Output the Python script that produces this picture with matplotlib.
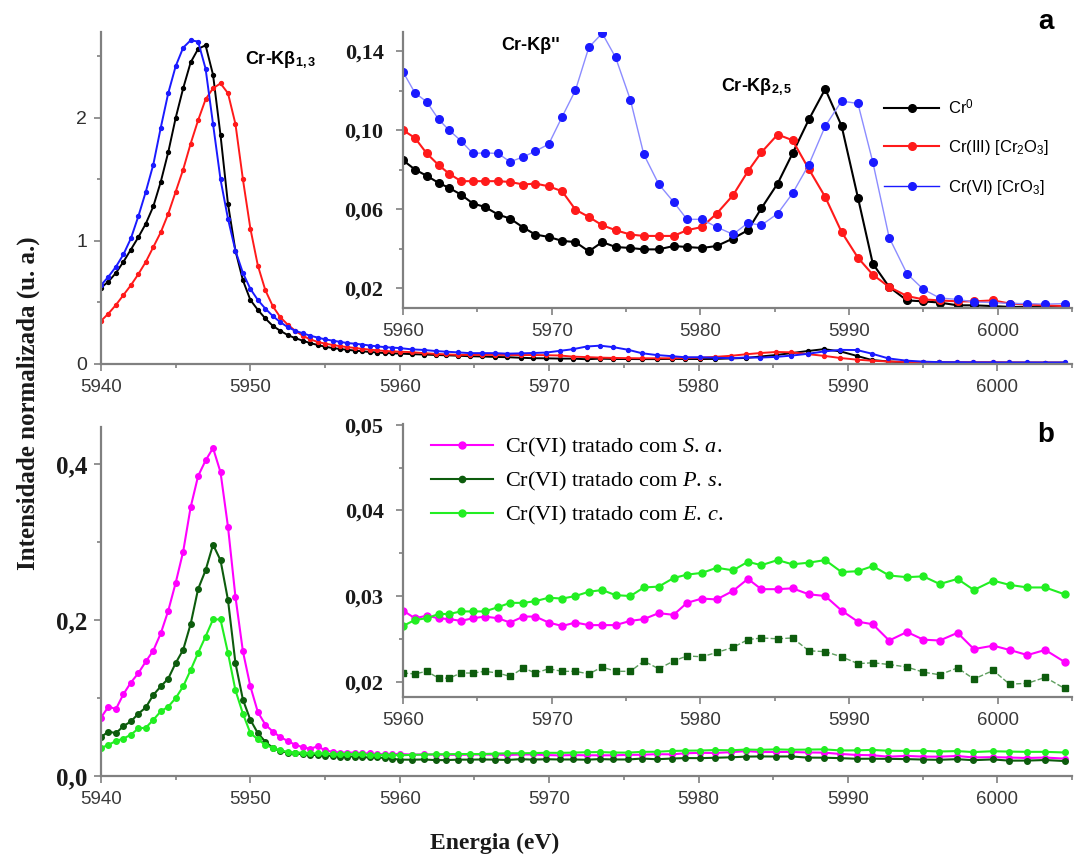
import numpy as np
import matplotlib.pyplot as plt
from matplotlib.ticker import MultipleLocator, FixedLocator

plt.rcParams['font.family'] = ['Liberation Sans', 'DejaVu Sans']
plt.rcParams['mathtext.fontset'] = 'custom'
plt.rcParams['mathtext.rm'] = 'Liberation Serif'
plt.rcParams['mathtext.it'] = 'Liberation Serif:italic'
plt.rcParams['mathtext.bf'] = 'Liberation Sans:bold'
plt.rcParams['mathtext.sf'] = 'Liberation Sans'

# ---- data: main peak region, 0.5 eV steps (5940 - 5959.5)
e_peak = np.arange(5940, 5960, 0.5)

cr0_peak = [0.62, 0.67, 0.74, 0.83, 0.93, 1.03, 1.14, 1.28, 1.48, 1.72,
            2.00, 2.24, 2.45, 2.56, 2.59, 2.35, 1.86, 1.30, 0.92, 0.68,
            0.52, 0.44, 0.37, 0.31, 0.27, 0.235, 0.21, 0.19, 0.17, 0.155,
            0.14, 0.13, 0.122, 0.115, 0.109, 0.103, 0.098, 0.093, 0.089, 0.087]
cr3_peak = [0.35, 0.41, 0.48, 0.56, 0.64, 0.73, 0.83, 0.95, 1.07, 1.22,
            1.40, 1.58, 1.79, 1.98, 2.15, 2.24, 2.28, 2.20, 1.95, 1.50,
            1.10, 0.80, 0.60, 0.47, 0.38, 0.32, 0.27, 0.23, 0.20, 0.18,
            0.165, 0.155, 0.145, 0.137, 0.13, 0.123, 0.117, 0.111, 0.106, 0.103]
cr6_peak = [0.64, 0.71, 0.79, 0.89, 1.02, 1.20, 1.40, 1.62, 1.92, 2.20,
            2.42, 2.57, 2.63, 2.62, 2.40, 1.95, 1.50, 1.18, 0.92, 0.74,
            0.61, 0.52, 0.45, 0.39, 0.34, 0.30, 0.27, 0.25, 0.23, 0.215,
            0.20, 0.19, 0.18, 0.17, 0.165, 0.158, 0.15, 0.143, 0.137, 0.133]

sa_peak = [0.075, 0.089, 0.086, 0.105, 0.120, 0.132, 0.147, 0.161, 0.183, 0.212,
           0.248, 0.288, 0.345, 0.385, 0.405, 0.421, 0.390, 0.320, 0.230, 0.160,
           0.115, 0.082, 0.066, 0.057, 0.050, 0.045, 0.040, 0.037, 0.035, 0.038,
           0.033, 0.031, 0.030, 0.030, 0.030, 0.029, 0.029, 0.028, 0.028, 0.028]
ps_peak = [0.050, 0.057, 0.055, 0.064, 0.070, 0.080, 0.088, 0.104, 0.115, 0.125,
           0.145, 0.162, 0.195, 0.240, 0.264, 0.297, 0.277, 0.226, 0.145, 0.098,
           0.072, 0.055, 0.044, 0.036, 0.032, 0.030, 0.029, 0.028, 0.027, 0.027,
           0.026, 0.026, 0.025, 0.025, 0.025, 0.024, 0.024, 0.024, 0.023, 0.022]
ec_peak = [0.036, 0.040, 0.045, 0.048, 0.053, 0.061, 0.062, 0.072, 0.083, 0.089,
           0.100, 0.115, 0.136, 0.158, 0.179, 0.201, 0.201, 0.158, 0.110, 0.080,
           0.055, 0.047, 0.040, 0.036, 0.033, 0.031, 0.030, 0.030, 0.029, 0.029,
           0.029, 0.028, 0.028, 0.028, 0.028, 0.028, 0.027, 0.027, 0.027, 0.027]

# ---- data: inset region (5960 - 6005)
e_tail = [5960.0, 5960.8, 5961.6, 5962.4, 5963.1, 5963.9, 5964.7, 5965.5, 5966.4, 5967.2,
          5968.1, 5968.9, 5969.8, 5970.7, 5971.6, 5972.5, 5973.4, 5974.3, 5975.3, 5976.2,
          5977.2, 5978.2, 5979.1, 5980.1, 5981.1, 5982.2, 5983.2, 5984.1, 5985.2, 5986.2,
          5987.3, 5988.4, 5989.5, 5990.6, 5991.6, 5992.7, 5993.9, 5995.0, 5996.1, 5997.3,
          5998.4, 5999.7, 6000.8, 6002.0, 6003.2, 6004.5]

cr0_tail = [0.0848, 0.0801, 0.0769, 0.0733, 0.0708, 0.0674, 0.0629, 0.0612, 0.0573, 0.0553,
            0.0507, 0.0472, 0.0460, 0.0440, 0.0434, 0.0387, 0.0434, 0.0409, 0.0404, 0.0397,
            0.0397, 0.0414, 0.0409, 0.0404, 0.0414, 0.0452, 0.0494, 0.0604, 0.0730, 0.0882,
            0.1054, 0.1208, 0.1022, 0.0659, 0.0325, 0.0207, 0.0139, 0.0134, 0.0128, 0.0114,
            0.0114, 0.0110, 0.0106, 0.0106, 0.0106, 0.0106]
cr3_tail = [0.1000, 0.0961, 0.0882, 0.0823, 0.0780, 0.0742, 0.0742, 0.0742, 0.0742, 0.0738,
            0.0725, 0.0730, 0.0716, 0.0691, 0.0598, 0.0561, 0.0519, 0.0494, 0.0472, 0.0465,
            0.0465, 0.0465, 0.0494, 0.0510, 0.0578, 0.0671, 0.0792, 0.0887, 0.0978, 0.0949,
            0.0803, 0.0662, 0.0485, 0.0355, 0.0269, 0.0207, 0.0161, 0.0144, 0.0139, 0.0134,
            0.0134, 0.0139, 0.0123, 0.0118, 0.0114, 0.0110]
cr6_tail = [0.1295, 0.1189, 0.1143, 0.1054, 0.1000, 0.0946, 0.0882, 0.0885, 0.0882, 0.0840,
            0.0865, 0.0894, 0.0929, 0.1067, 0.1202, 0.1419, 0.1490, 0.1368, 0.1152, 0.0877,
            0.0727, 0.0637, 0.0549, 0.0549, 0.0510, 0.0473, 0.0531, 0.0519, 0.0578, 0.0680,
            0.0826, 0.1020, 0.1147, 0.1135, 0.0839, 0.0457, 0.0274, 0.0195, 0.0151, 0.0144,
            0.0131, 0.0128, 0.0123, 0.0123, 0.0120, 0.0123]

sa_tail = [0.0283, 0.0274, 0.0277, 0.0274, 0.0273, 0.0271, 0.0274, 0.0276, 0.0274, 0.0269,
           0.0276, 0.0276, 0.0269, 0.0265, 0.0269, 0.0266, 0.0266, 0.0266, 0.0271, 0.0273,
           0.0280, 0.0278, 0.0292, 0.0297, 0.0296, 0.0306, 0.0320, 0.0308, 0.0308, 0.0309,
           0.0302, 0.0300, 0.0283, 0.0270, 0.0267, 0.0248, 0.0258, 0.0249, 0.0248, 0.0257,
           0.0238, 0.0242, 0.0237, 0.0231, 0.0237, 0.0223]
ps_tail = [0.0210, 0.0209, 0.0212, 0.0204, 0.0204, 0.0210, 0.0210, 0.0212, 0.0210, 0.0206,
           0.0216, 0.0210, 0.0215, 0.0212, 0.0212, 0.0209, 0.0217, 0.0212, 0.0212, 0.0224,
           0.0215, 0.0224, 0.0230, 0.0229, 0.0234, 0.0240, 0.0249, 0.0251, 0.0250, 0.0251,
           0.0236, 0.0235, 0.0229, 0.0221, 0.0222, 0.0220, 0.0217, 0.0211, 0.0208, 0.0216,
           0.0203, 0.0213, 0.0197, 0.0198, 0.0205, 0.0192]
ec_tail = [0.0265, 0.0272, 0.0274, 0.0279, 0.0279, 0.0282, 0.0282, 0.0282, 0.0287, 0.0292,
           0.0292, 0.0294, 0.0298, 0.0297, 0.0300, 0.0305, 0.0307, 0.0301, 0.0300, 0.0310,
           0.0311, 0.0321, 0.0325, 0.0327, 0.0333, 0.0330, 0.0340, 0.0336, 0.0342, 0.0337,
           0.0339, 0.0342, 0.0328, 0.0329, 0.0335, 0.0324, 0.0322, 0.0323, 0.0314, 0.0320,
           0.0307, 0.0318, 0.0313, 0.0310, 0.0310, 0.0302]

x_ticks_main = [5940, 5950, 5960, 5970, 5980, 5990, 6000]
x_ticks_inset = [5960, 5970, 5980, 5990, 6000]

e_main = list(e_peak) + e_tail

# colours
c_black, c_red, c_blue = '#000000', '#ff1a1a', '#1a1aff'
c_mag, c_dg, c_lg = '#ff00ff', '#0d5c0d', '#22ee22'

fig = plt.figure(figsize=(10.74, 8.56), dpi=100)
W, H = 1074.0, 856.0


def box(l, t, r, b):
    return [l / W, 1 - b / H, (r - l) / W, (b - t) / H]


def style(ax, xt, yt, ylab, ymin, sans_y, ypad):
    for s in ['top', 'right']:
        ax.spines[s].set_visible(False)
    for s in ['left', 'bottom']:
        ax.spines[s].set_color('#808080')
        ax.spines[s].set_linewidth(1.6)
    ax.xaxis.set_major_locator(FixedLocator(xt))
    ax.set_xticklabels([str(v) for v in xt])
    ax.xaxis.set_minor_locator(MultipleLocator(5))
    ax.yaxis.set_major_locator(FixedLocator(yt))
    ax.yaxis.set_minor_locator(MultipleLocator(ymin))
    ax.set_yticklabels(ylab)
    ax.tick_params(which='both', direction='out', color='#808080', width=1.2)
    ax.tick_params(which='major', length=5)
    ax.tick_params(which='minor', length=3)
    ax.tick_params(axis='x', labelsize=13.5, labelcolor='#3a3a3a', pad=6)
    if sans_y:
        ax.tick_params(axis='y', labelsize=14, labelcolor='#303030', pad=ypad)
    else:
        ax.tick_params(axis='y', labelsize=16, labelcolor='#1a1a1a', pad=ypad)
        for t in ax.get_yticklabels():
            t.set_family('Liberation Serif')
            t.set_weight('bold')


# ---- panel a, main
ax1 = fig.add_axes(box(101, 31.7, 1072, 364))
ax1.plot(e_main, cr0_peak + cr0_tail, '-o', color=c_black, lw=1.4, ms=2.8)
ax1.plot(e_main, cr3_peak + cr3_tail, '-o', color=c_red, lw=1.4, ms=2.8)
ax1.plot(e_main, cr6_peak + cr6_tail, '-o', color=c_blue, lw=1.4, ms=2.8)
ax1.set_xlim(5940, 6005)
ax1.set_ylim(0, 2.70)
style(ax1, x_ticks_main, [0, 1, 2], ['0', '1', '2'], 0.5, True, 5)

# ---- panel a, inset
ax2 = fig.add_axes(box(403, 31.7, 1072, 307.7))
ax2.plot(e_tail, cr0_tail, '-o', color=c_black, lw=1.5, ms=5.5, label='Cr$^\\mathsf{0}$')
ax2.plot(e_tail, cr3_tail, '-o', color=c_red, lw=1.5, ms=5.5,
         label='Cr(III) [Cr$_\\mathsf{2}$O$_\\mathsf{3}$]')
ax2.plot(e_tail, cr6_tail, '-', color='#8c8cff', lw=1.0)
ax2.plot(e_tail, cr6_tail, 'o', color=c_blue, ms=5.5)
ax2.plot([], [], '-o', color=c_blue, lw=1.0, ms=5.5, label='Cr(VI) [CrO$_\\mathsf{3}$]')
ax2.set_xlim(5960, 6005)
ax2.set_ylim(0.0102, 0.1498)
style(ax2, x_ticks_inset, [0.02, 0.06, 0.10, 0.14], ['0,02', '0,06', '0,10', '0,14'],
      0.02, False, 9)
ax2.legend(loc='upper left', bbox_to_anchor=((884 - 403) / 669.0, 1 - (98 - 31.7) / 276.0),
           frameon=False, fontsize=12, handlelength=3.3, handletextpad=0.55,
           labelspacing=1.25, borderpad=0, borderaxespad=0)

# ---- panel b, main
ax3 = fig.add_axes(box(101, 427, 1072, 776))
ax3.plot(e_main, sa_peak + sa_tail, '-o', color=c_mag, lw=1.5, ms=4)
ax3.plot(e_main, ps_peak + ps_tail, '-o', color=c_dg, lw=1.5, ms=4)
ax3.plot(e_main, ec_peak + ec_tail, '-o', color=c_lg, lw=1.5, ms=4)
ax3.set_xlim(5940, 6005)
ax3.set_ylim(0, 0.448)
style(ax3, x_ticks_main, [0.0, 0.2, 0.4], ['0,0', '0,2', '0,4'], 0.1, False, 5)
for t in ax3.get_yticklabels():
    t.set_fontsize(18)

# ---- panel b, inset
ax4 = fig.add_axes(box(403, 424, 1072, 697))
ax4.plot(e_tail, sa_tail, '-o', color=c_mag, lw=1.5, ms=5,
         label='Cr(VI) tratado com $\\mathit{S.}\\,\\mathit{a.}$')
ax4.plot(e_tail, ps_tail, '--', color='#5e9e5e', lw=1.0)
ax4.plot(e_tail, ps_tail, 's', color=c_dg, ms=4.5)
ax4.plot([], [], '-o', color=c_dg, lw=1.5, ms=4.5,
         label='Cr(VI) tratado com $\\mathit{P.}\\,\\mathit{s.}$')
ax4.plot(e_tail, ec_tail, '-o', color=c_lg, lw=1.5, ms=5,
         label='Cr(VI) tratado com $\\mathit{E.}\\,\\mathit{c.}$')
ax4.set_xlim(5960, 6005)
ax4.set_ylim(0.0182, 0.0501)
style(ax4, x_ticks_inset, [0.02, 0.03, 0.04, 0.05], ['0,02', '0,03', '0,04', '0,05'],
      0.005, False, 9)
ax4.legend(loc='upper left', bbox_to_anchor=((431 - 403) / 669.0, 1 - (436 - 424) / 273.0),
           frameon=False, prop={'family': 'Liberation Serif', 'size': 16},
           handlelength=2.8, handletextpad=0.55, labelspacing=0.5,
           borderpad=0, borderaxespad=0)

# ---- annotations
fig.text(245 / W, 1 - 60 / H, 'Cr-K\u03b2$_\\mathbf{1,3}$', fontsize=13, fontweight='bold',
         va='center', ha='left')
fig.text(501 / W, 1 - 45 / H, "Cr-K\u03b2''", fontsize=13, fontweight='bold',
         va='center', ha='left')
fig.text(721 / W, 1 - 87 / H, 'Cr-K\u03b2$_\\mathbf{2,5}$', fontsize=13, fontweight='bold',
         va='center', ha='left')
fig.text(1046 / W, 1 - 22 / H, 'a', fontsize=20, fontweight='bold', ha='center', va='center')
fig.text(1046 / W, 1 - 435 / H, 'b', fontsize=20, fontweight='bold', ha='center', va='center')

fig.text(28 / W, 1 - 403 / H, 'Intensidade normalizada (u. a.)', rotation=90,
         family='Liberation Serif', fontweight='bold', fontsize=18, color='#1a1a1a',
         ha='center', va='center')
fig.text(495 / W, 1 - 843 / H, 'Energia (eV)', family='Liberation Serif',
         fontweight='bold', fontsize=17, color='#1a1a1a', ha='center', va='center')

fig.savefig('out.png', dpi=100)
